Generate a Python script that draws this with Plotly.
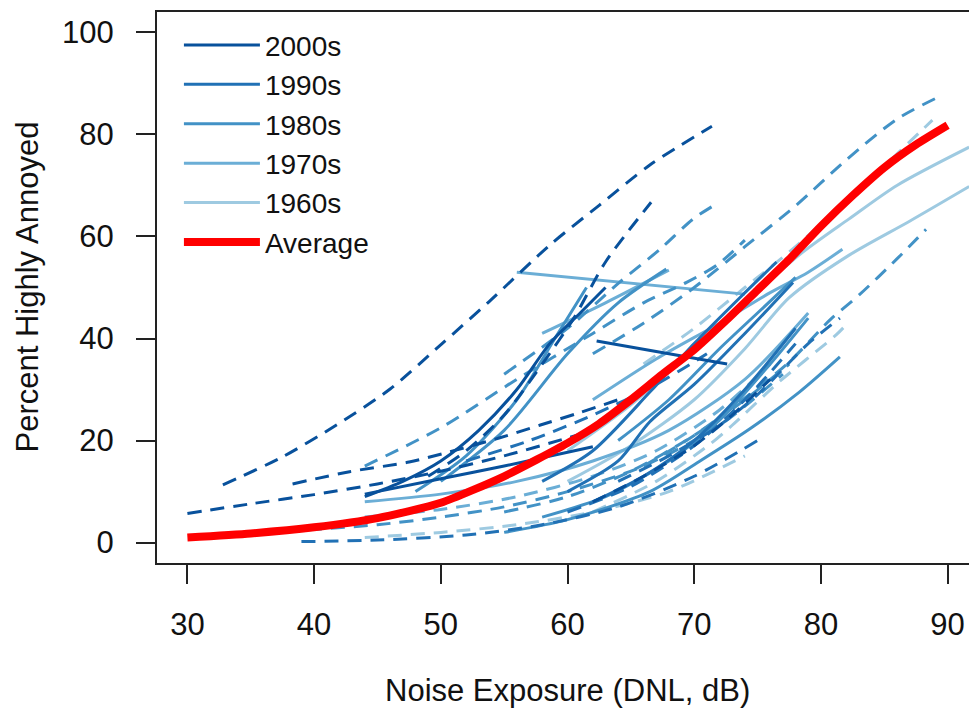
import plotly.graph_objects as go

# ---------------- data ----------------
decades = ["2000s", "1990s", "1980s", "1970s", "1960s"]
decade_colors = ["#08519C", "#2171B5", "#4292C6", "#6BAED6", "#9ECAE1"]

x_ticks = [30, 40, 50, 60, 70, 80, 90]
y_ticks = [0, 20, 40, 60, 80, 100]

# 2000s studies
d2000_x = [
    [32.8, 37.5, 41.8, 46, 50.1, 53.8, 58.6, 62.5, 66.5, 71.4],
    [30, 35, 40, 45, 50, 55, 60, 62],
    [38.3, 42.8, 47.5, 50.7, 54.6, 57.8, 61, 64],
    [49, 52, 55, 58, 60.5, 63, 66.6],
    [44, 47, 50, 53, 56, 58.6, 61, 63],
    [44, 50, 55, 62],
    [62.3, 72.6],
    [62, 66, 70, 73, 76],
]
d2000_y = [
    [11.3, 16.8, 23.1, 30.1, 39, 47.2, 58.3, 66.1, 74, 81.6],
    [5.7, 7.6, 9.4, 11.5, 14, 17, 20.5, 22],
    [11.5, 13.9, 15.8, 17.8, 20.5, 23, 25.5, 28],
    [13, 18, 25, 35, 44, 55, 66.7],
    [9, 12, 16, 22, 30, 39, 45, 50],
    [9.5, 12.5, 15, 18.8],
    [39.5, 35],
    [8, 13, 19, 25, 32],
]
d2000_dash = [True, True, True, True, False, False, False, True]

# 1990s studies
d1990_x = [
    [58, 62, 66.5, 70, 73.6, 76.5],
    [60, 64, 66.5, 70, 74, 77.8],
    [62, 66, 70, 74, 78],
    [64, 68, 72, 75, 77, 79, 81.5],
    [39, 45, 52, 58, 64, 70, 75],
    [52, 57, 62, 67, 71],
    [60, 65, 70, 74, 78],
]
d1990_y = [
    [12, 18, 29.5, 39, 48, 55],
    [10, 16, 23.7, 31, 41, 51],
    [8, 13, 20, 30, 42],
    [12, 17, 23, 29, 34, 39, 44],
    [0.2, 0.5, 1.5, 3.5, 7, 13, 20],
    [16, 20, 25, 31, 37],
    [6, 11, 19, 28, 39],
]
d1990_dash = [False, False, False, True, True, True, True]

# 1980s studies
d1980_x = [
    [55, 60, 66.5, 70.4, 74.4, 78.3, 81.5],
    [62, 66, 70, 74, 78, 82, 86, 89],
    [44, 50, 56, 62, 66, 69.4, 71.8, 74],
    [55, 60, 64.1, 67.3, 69.9, 71.5],
    [66, 70, 73.3, 77.5, 80.7, 83, 86, 88.3],
    [50, 55, 60, 64, 67.8],
    [39.5, 45, 50, 55, 60, 66, 72, 77],
    [55, 60, 65, 70, 74, 77.5],
    [48, 52, 56, 59, 61.5],
    [58, 63, 68, 72, 76, 79],
    [64, 68, 72, 75, 78],
]
d1980_y = [
    [2, 4.5, 10, 15.9, 22.3, 29.5, 36.4],
    [37, 43, 50, 58, 66, 75, 83, 87],
    [15, 22.5, 32, 41, 47, 51, 54.4, 59.3],
    [33, 42, 51, 57.5, 63.4, 66],
    [15, 21, 27, 35.4, 43.6, 48.5, 55.6, 61.4],
    [12, 22, 37, 47, 53.6],
    [2.5, 3.5, 5, 7, 10, 15, 23, 33],
    [6, 9, 14, 21, 28, 35],
    [10, 17, 28, 40, 50],
    [5, 9, 16, 24, 35, 44],
    [20, 28, 38, 45, 52],
]
d1980_dash = [False, True, True, True, True, False, True, True, False, False, False]

# 1970s studies
d1970_x = [
    [56, 74],
    [58, 63, 68],
    [62, 67, 72, 76, 79, 81.7],
    [44, 50, 56, 62, 68, 74, 79],
    [44, 50, 56, 62, 67, 72, 76],
]
d1970_y = [
    [53, 48.7],
    [41, 47, 53.4],
    [28, 36, 43, 49, 53, 57.5],
    [8, 9.5, 12, 16, 22, 32, 45],
    [5, 6.5, 9, 13, 18, 26, 35],
]
d1970_dash = [False, False, False, False, True]

# 1960s studies
d1960_x = [
    [60, 65, 70, 74, 78.3, 82.2, 86, 91.7],
    [60, 65, 70, 74, 77.5, 82.2, 87, 91.7],
    [62, 67, 71.2, 73, 76.7, 81.2, 82],
    [66, 70, 74, 78, 82, 85.5, 88.8],
    [44, 50, 56, 62, 68, 74],
]
d1960_y = [
    [18, 27, 38, 47, 56.4, 63.4, 70, 77.5],
    [12, 19, 28, 38, 48, 56.3, 63, 69.8],
    [6, 12, 19.2, 23, 31.5, 40.7, 42.7],
    [35, 42, 50, 58, 67, 75, 82.8],
    [1, 2, 3.5, 6, 10, 17],
]
d1960_dash = [False, False, True, True, True]

# Average curve
avg_x = [30, 35, 40, 45, 50, 55, 60, 62.5, 65, 67.5, 70, 72.5, 75, 77.5, 80, 82.5, 85, 87.5, 90]
avg_y = [1, 1.8, 3, 4.8, 7.8, 13, 19.5, 23.3, 28, 33, 37.8, 43.5, 49.5, 55.5, 62, 68, 73.5, 78, 81.8]

# ---------------- figure ----------------
FONT = "Liberation Sans, Arial, sans-serif"
fig = go.Figure()

groups = [
    (d1960_x, d1960_y, d1960_dash, 4),
    (d1970_x, d1970_y, d1970_dash, 3),
    (d1980_x, d1980_y, d1980_dash, 2),
    (d1990_x, d1990_y, d1990_dash, 1),
    (d2000_x, d2000_y, d2000_dash, 0),
]
for xs_list, ys_list, dashes, idx in groups:
    shown = False
    for xs, ys, dsh in zip(xs_list, ys_list, dashes):
        show = (not dsh) and (not shown)
        if show:
            shown = True
        fig.add_trace(go.Scatter(
            x=xs, y=ys, mode="lines",
            line=dict(color=decade_colors[idx], width=3,
                      dash="14px,9px" if dsh else "solid",
                      shape="spline", smoothing=0.8),
            name=decades[idx], showlegend=show, legendrank=idx + 1,
            legendgroup=decades[idx], hoverinfo="skip",
        ))

fig.add_trace(go.Scatter(
    x=avg_x, y=avg_y, mode="lines",
    line=dict(color="#FF0000", width=8, shape="spline", smoothing=0.6),
    name="Average", showlegend=True, legendrank=6, hoverinfo="skip",
))

fig.update_layout(
    width=969, height=715,
    margin=dict(l=157, r=0, t=12, b=152),
    paper_bgcolor="white", plot_bgcolor="white",
    font=dict(family=FONT, size=31, color="black"),
    showlegend=True,
    legend=dict(x=0.027, y=0.985, xanchor="left", yanchor="top",
                bgcolor="rgba(0,0,0,0)", borderwidth=0,
                font=dict(family=FONT, size=28, color="#111"),
                itemwidth=76, tracegroupgap=0, traceorder="normal"),
    xaxis=dict(range=[27.6, 91.69], tickvals=x_ticks, ticktext=[str(v) for v in x_ticks],
               showgrid=False, zeroline=False, showline=True, mirror=True,
               linecolor="#222", linewidth=2, ticks="outside", ticklen=19,
               tickwidth=1.5, tickcolor="#222", ticklabelstandoff=14,
               tickfont=dict(family=FONT, size=31, color="#111")),
    yaxis=dict(range=[-4, 104], tickvals=y_ticks, ticktext=[str(v) for v in y_ticks],
               showgrid=False, zeroline=False, showline=True, mirror=False,
               linecolor="#222", linewidth=2, ticks="outside", ticklen=19,
               tickwidth=1.5, tickcolor="#222", ticklabelstandoff=16,
               tickfont=dict(family=FONT, size=31, color="#111")),
    annotations=[
        dict(text="Noise Exposure (DNL, dB)", xref="paper", yref="paper",
             x=(567 - 157) / 812, y=-(690 - 563) / 551, xanchor="center", yanchor="middle",
             showarrow=False, font=dict(family=FONT, size=31, color="#111")),
        dict(text="Percent Highly Annoyed", xref="paper", yref="paper",
             x=-(157 - 27) / 812, y=0.5, xanchor="center", yanchor="middle", textangle=-90,
             showarrow=False, font=dict(family=FONT, size=31, color="#111")),
    ],
)

fig.write_html("out.html")
